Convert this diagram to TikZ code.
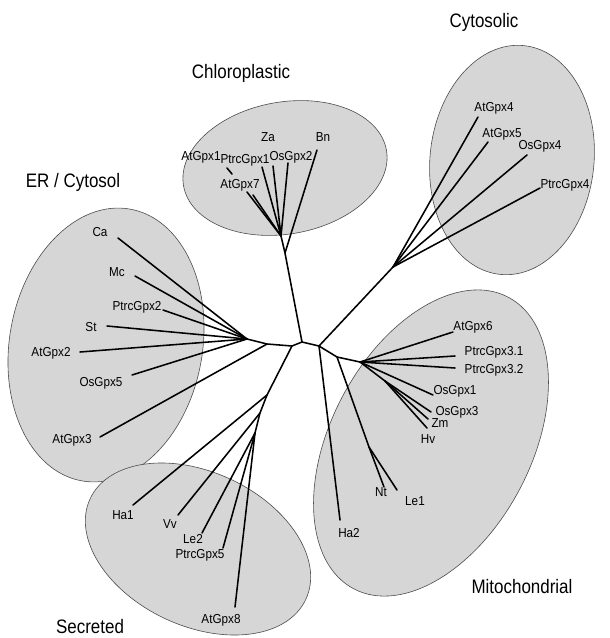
\documentclass[tikz,border=0pt]{standalone}
\usepackage{fontspec}
\setmainfont{Liberation Sans}
\newfontfamily\lblfont[FakeStretch=0.9]{Liberation Sans}
\newfontfamily\ttlfont[FakeStretch=0.87]{Liberation Sans}
\begin{document}
\begin{tikzpicture}[x=1pt,y=-1pt,
  region/.style={draw=black!70, line width=0.6pt, fill=black!16},
  branch/.style={line width=1.55pt, line cap=round, line join=round},
  leaf/.style={font=\lblfont\fontsize{13}{15}\selectfont, inner sep=0pt, anchor=center},
  ttl/.style={font=\ttlfont\fontsize{19.5}{22}\selectfont, inner sep=0pt, anchor=center}]
\useasboundingbox (0,0) rectangle (610,638);

% ---------- regions ----------
\draw[region, rotate around={10:(285,168)}] (285,168) ellipse (103 and 66);
\draw[region, rotate around={84:(512,160)}] (512,160) ellipse (115 and 82);
\draw[region, rotate around={80:(106,345)}] (106,345) ellipse (138 and 96.5);
\draw[region, rotate around={62:(431,443)}] (431,443) ellipse (165 and 100);
\draw[region, rotate around={-25:(198,549)}] (198,549) ellipse (119 and 77);

% ---------- junctions ----------
\coordinate (A)  at (302,342);
\coordinate (B)  at (319,346);
\coordinate (C1) at (285,253);
\coordinate (C2) at (281,236);
\coordinate (D)  at (393,267);
\coordinate (F)  at (337,357);
\coordinate (E)  at (360,362);
\coordinate (N1) at (369,447);
\coordinate (H)  at (385,381);
\coordinate (K1) at (292,346);
\coordinate (K2) at (267,344);
\coordinate (K3) at (247,339);
\coordinate (S1) at (267,395);
\coordinate (S2) at (260,413);
\coordinate (S3) at (255,433);

% ---------- leaf ends ----------
\coordinate (eBn) at (317,150);
\coordinate (eOsGpx2) at (288,163);
\coordinate (eZa) at (273,166);
\coordinate (ePtrcGpx1) at (262,167);
\coordinate (eAtGpx7) at (253,195);
\coordinate (eAtGpx1) at (247,192);
\coordinate (dashA) at (227,168);
\coordinate (dashB) at (232,174);
\coordinate (eAtGpx4) at (478,117);
\coordinate (eAtGpx5) at (488,142);
\coordinate (eOsGpx4) at (527,155);
\coordinate (ePtrcGpx4) at (540,188);
\coordinate (eHa2) at (340,520);
\coordinate (eNt) at (384,487);
\coordinate (eLe1) at (397,490);
\coordinate (eAtGpx6) at (453,332);
\coordinate (eP31) at (455,356);
\coordinate (eP32) at (455,368);
\coordinate (eOsGpx1) at (433,395);
\coordinate (eOsGpx3) at (431,412);
\coordinate (eZm) at (428,419);
\coordinate (eHv) at (427,428);
\coordinate (eCa) at (118,238);
\coordinate (eMc) at (135,276);
\coordinate (ePtrcGpx2) at (163,310);
\coordinate (eSt) at (107,326);
\coordinate (eAtGpx2) at (80,352);
\coordinate (eOsGpx5) at (132,375);
\coordinate (eAtGpx3) at (100,437);
\coordinate (eHa1) at (133,505);
\coordinate (eVv) at (178,515);
\coordinate (eLe2) at (202,533);
\coordinate (ePtrcGpx5) at (223,548);
\coordinate (eAtGpx8) at (235,607);

% ---------- branches ----------
\draw[branch] (A) -- (B);
% chloroplastic
\draw[branch] (A) -- (C1) -- (C2);
\draw[branch] (C1) -- (eBn);
\draw[branch] (C2) -- (eOsGpx2);
\draw[branch] (C2) -- (eZa);
\draw[branch] (C2) -- (ePtrcGpx1);
\draw[branch] (C2) -- (eAtGpx7);
\draw[branch] (C2) -- (eAtGpx1);
\draw[branch] (dashA) -- (dashB);
% cytosolic
\draw[branch] (B) -- (D);
\draw[branch] (D) -- (eAtGpx4);
\draw[branch] (D) -- (eAtGpx5);
\draw[branch] (D) -- (eOsGpx4);
\draw[branch] (D) -- (ePtrcGpx4);
% mitochondrial
\draw[branch] (B) -- (F) -- (E);
\draw[branch] (B) -- (eHa2);
\draw[branch] (F) -- (N1) -- (eNt);
\draw[branch] (N1) -- (eLe1);
\draw[branch] (E) -- (eAtGpx6);
\draw[branch] (E) -- (eP31);
\draw[branch] (E) -- (eP32);
\draw[branch] (E) -- (eOsGpx1);
\draw[branch] (E) -- (H);
\draw[branch] (H) -- (eOsGpx3);
\draw[branch] (H) -- (eZm);
\draw[branch] (H) -- (eHv);
% ER / cytosol
\draw[branch] (A) -- (K1) -- (K2) -- (K3);
\draw[branch] (K2) -- (eAtGpx3);
\draw[branch] (K3) -- (eCa);
\draw[branch] (K3) -- (eMc);
\draw[branch] (K3) -- (ePtrcGpx2);
\draw[branch] (K3) -- (eSt);
\draw[branch] (K3) -- (eAtGpx2);
\draw[branch] (K3) -- (eOsGpx5);
% secreted
\draw[branch] (K1) -- (S1) -- (S2) -- (S3);
\draw[branch] (S1) -- (eHa1);
\draw[branch] (S2) -- (eVv);
\draw[branch] (S3) -- (eLe2);
\draw[branch] (S3) -- (ePtrcGpx5);
\draw[branch] (S3) -- (eAtGpx8);

% ---------- leaf labels ----------
\node[leaf] (lBn) at (323,137) {Bn};
\node[leaf] (lZa) at (268,137) {Za};
\node[leaf] (lOsGpx2) at (291,157) {OsGpx2};
\node[leaf] (lPtrcGpx1) at (245,160) {PtrcGpx1};
\node[leaf] (lAtGpx1) at (201,157) {AtGpx1};
\node[leaf] (lAtGpx7) at (240,185) {AtGpx7};
\node[leaf] (lAtGpx4) at (494,108) {AtGpx4};
\node[leaf] (lAtGpx5) at (502,134) {AtGpx5};
\node[leaf] (lOsGpx4) at (540,146) {OsGpx4};
\node[leaf] (lPtrcGpx4) at (565,185) {PtrcGpx4};
\node[leaf] (lAtGpx6) at (473,327) {AtGpx6};
\node[leaf] (lP31) at (494,352) {PtrcGpx3.1};
\node[leaf] (lP32) at (494,370) {PtrcGpx3.2};
\node[leaf] (lOsGpx1) at (455,391) {OsGpx1};
\node[leaf] (lOsGpx3) at (457,412) {OsGpx3};
\node[leaf] (lZm) at (440,423) {Zm};
\node[leaf] (lHv) at (428,439) {Hv};
\node[leaf] (lNt) at (381,492) {Nt};
\node[leaf] (lLe1) at (415,501) {Le1};
\node[leaf] (lHa2) at (349,533) {Ha2};
\node[leaf] (lCa) at (100,232) {Ca};
\node[leaf] (lMc) at (117,272) {Mc};
\node[leaf] (lPtrcGpx2) at (137,307) {PtrcGpx2};
\node[leaf] (lSt) at (91,327) {St};
\node[leaf] (lAtGpx2) at (51,353) {AtGpx2};
\node[leaf] (lOsGpx5) at (101,383) {OsGpx5};
\node[leaf] (lAtGpx3) at (72,440) {AtGpx3};
\node[leaf] (lHa1) at (123,515) {Ha1};
\node[leaf] (lVv) at (170,524) {Vv};
\node[leaf] (lLe2) at (193,539) {Le2};
\node[leaf] (lPtrcGpx5) at (200,555) {PtrcGpx5};
\node[leaf] (lAtGpx8) at (221,620) {AtGpx8};

% ---------- titles ----------
\node[ttl] (tCyto) at (484,22) {Cytosolic};
\node[ttl] (tChl) at (241,73) {Chloroplastic};
\node[ttl] (tER) at (73,182) {ER / Cytosol};
\node[ttl] (tSec) at (90,627) {Secreted};
\node[ttl] (tMito) at (522,587) {Mitochondrial};
\end{tikzpicture}
\end{document}
